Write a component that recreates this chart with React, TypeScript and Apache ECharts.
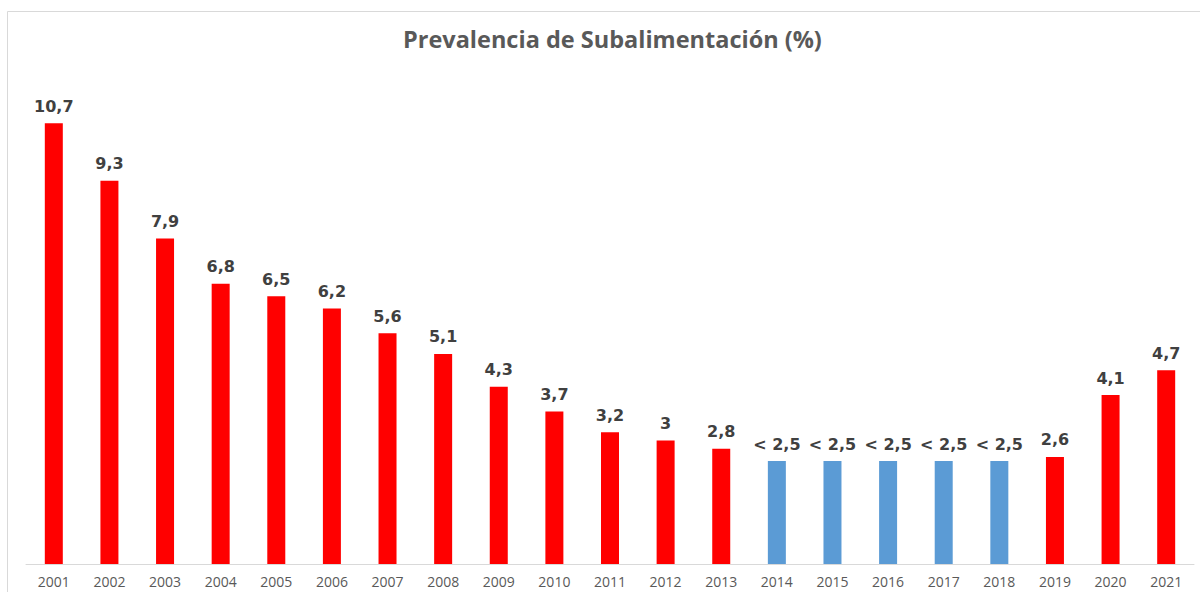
import React, { useEffect, useRef } from "react";
import * as echarts from "echarts";

const years = ["2001","2002","2003","2004","2005","2006","2007","2008","2009","2010","2011","2012","2013","2014","2015","2016","2017","2018","2019","2020","2021"];
const values = [10.7, 9.3, 7.9, 6.8, 6.5, 6.2, 5.6, 5.1, 4.3, 3.7, 3.2, 3, 2.8, 2.5, 2.5, 2.5, 2.5, 2.5, 2.6, 4.1, 4.7];
const belowThreshold = [false,false,false,false,false,false,false,false,false,false,false,false,false,true,true,true,true,true,false,false,false];
const titleText = "Prevalencia de Subalimentación (%)";

export default function App() {
  const ref = useRef<HTMLDivElement>(null);
  useEffect(() => {
    if (!ref.current) return;
    const chart = echarts.init(ref.current, null, { renderer: "svg" });
    const data = values.map((v, i) => ({
      value: v,
      itemStyle: { color: belowThreshold[i] ? "#5b9bd5" : "#ff0000" },
    }));
    chart.setOption({
      animation: false,
      backgroundColor: "#ffffff",
      graphic: [
        {
          type: "rect",
          shape: { x: 7.5, y: 11.5, width: 1200, height: 600 },
          style: { fill: "none", stroke: "#d9d9d9", lineWidth: 1 },
          silent: true,
          z: -1,
        },
      ],
      title: {
        text: titleText,
        left: 398,
        top: 22,
        textStyle: { fontFamily: "Open Sans", fontWeight: "bold", fontSize: 23.5, color: "#595959" },
      },
      grid: { left: 26, right: 6, top: 69.6, bottom: 28, containLabel: false },
      xAxis: {
        type: "category",
        data: years,
        axisLine: { show: true, lineStyle: { color: "#d9d9d9", width: 1 } },
        axisTick: { show: false },
        axisLabel: { fontFamily: "Open Sans", fontSize: 14, color: "#595959", margin: 10 },
      },
      yAxis: {
        type: "value",
        min: 0,
        max: 12,
        show: false,
        splitLine: { show: false },
      },
      series: [
        {
          type: "bar",
          data,
          barWidth: 18,
          label: {
            show: true,
            position: "top",
            distance: 9,
            fontFamily: "DejaVu Sans",
            fontWeight: "bold",
            fontSize: 16,
            color: "#404040",
            formatter: (p: any) => {
              const s = String(values[p.dataIndex]).replace(".", ",");
              return belowThreshold[p.dataIndex] ? "< " + s : s;
            },
          },
        },
      ],
    });
    return () => chart.dispose();
  }, []);
  return (
    <div
      ref={ref}
      style={{ position: "absolute", left: 0, top: 0, width: 1200, height: 592 }}
    />
  );
}
